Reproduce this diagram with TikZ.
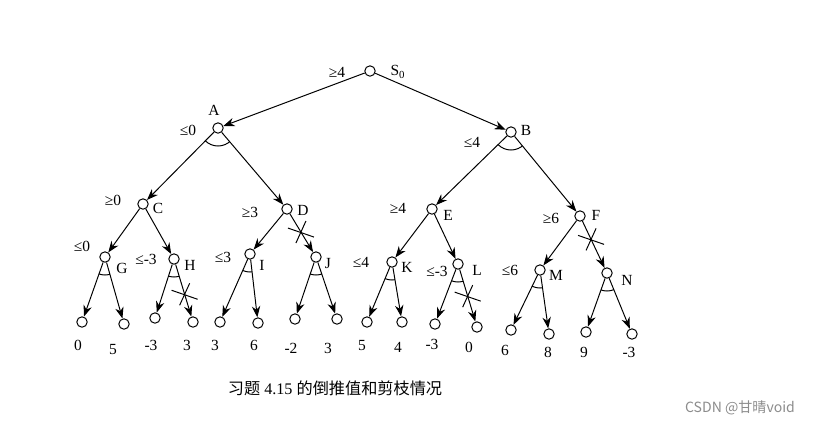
\documentclass[tikz,border=0pt]{standalone}
\usepackage{fontspec}
\setmainfont{Liberation Serif}
\newfontfamily\cjk{Noto Sans CJK SC}
\usetikzlibrary{arrows.meta,calc}

\begin{document}
\begin{tikzpicture}[>={Stealth[length=8pt,width=6pt]}, x=0.025cm, y=-0.025cm,
    state/.style={draw, circle, minimum size=0.26cm, inner sep=0pt, line width=0.7pt},
    lab/.style={font=\fontsize{11}{13}\selectfont, inner sep=0pt},
    edge/.style={->, line width=0.7pt},
    cutmark/.style={line width=0.7pt}]
  \useasboundingbox (0,0) rectangle (815,424);
  % game tree nodes
  \node [state] (S0) at (370,71) {};
  \node [state] (A) at (218,128) {};
  \node [state] (B) at (511,132) {};
  \node [state] (C) at (143,204) {};
  \node [state] (D) at (287,209) {};
  \node [state] (E) at (432,209) {};
  \node [state] (F) at (580,216) {};
  \node [state] (G) at (105,257) {};
  \node [state] (H) at (174,259) {};
  \node [state] (I) at (250,254) {};
  \node [state] (J) at (316,257) {};
  \node [state] (K) at (392,262) {};
  \node [state] (L) at (458,264) {};
  \node [state] (M) at (540,270) {};
  \node [state] (N) at (607,273) {};
  % leaves
  \node [state] (G1) at (82,322) {};
  \node [state] (G2) at (124,324) {};
  \node [state] (H1) at (155,318) {};
  \node [state] (H2) at (193,322) {};
  \node [state] (I1) at (220,322) {};
  \node [state] (I2) at (258,323) {};
  \node [state] (J1) at (295,319) {};
  \node [state] (J2) at (337,319) {};
  \node [state] (K1) at (367,322) {};
  \node [state] (K2) at (402,322) {};
  \node [state] (L1) at (435,324) {};
  \node [state] (L2) at (477,327) {};
  \node [state] (M1) at (511,330) {};
  \node [state] (M2) at (549,334) {};
  \node [state] (N1) at (586,332) {};
  \node [state] (N2) at (632,334) {};
  % edges
  \foreach \p/\c in {S0/A, S0/B, A/C, A/D, B/E, B/F, C/G, C/H, D/I, D/J,
                     E/K, E/L, F/M, F/N, G/G1, G/G2, H/H1, H/H2, I/I1, I/I2,
                     J/J1, J/J2, K/K1, K/K2, L/L1, L/L2, M/M1, M/M2, N/N1, N/N2}
    \draw [edge] (\p) -- (\c);
  % arcs at min nodes
  \foreach \p/\l/\r in {A/C/D, B/E/F, G/G1/G2, H/H1/H2, I/I1/I2, J/J1/J2,
                        K/K1/K2, L/L1/L2, M/M1/M2, N/N1/N2} {
    \begin{scope}
      \clip (\p.center) -- (\l.center) -- (\r.center) -- cycle;
      \draw [line width=0.7pt] (\p.center) circle [radius=0.45cm];
    \end{scope}
  }
  % pruned branches
  \foreach \p/\c/\t in {D/J/0.48, H/H2/0.56, L/L2/0.51, F/N/0.41} {
    \coordinate (x\c) at ($(\p)!\t!(\c)$);
    \draw [cutmark] ($(x\c)+(-13,-4)$) -- ($(x\c)+(13,5)$);
    \draw [cutmark] ($(x\c)+(-5,11)$) -- ($(x\c)+(5,-11)$);
  }
  % node names
  \node [lab] (nS0) at (398,72) {S\textsubscript{0}};
  \node [lab] (nA) at (214,110) {A};
  \node [lab] (nB) at (526,130) {B};
  \node [lab] (nC) at (158,208) {C};
  \node [lab] (nD) at (303,210) {D};
  \node [lab] (nE) at (448,215) {E};
  \node [lab] (nF) at (596,215) {F};
  \node [lab] (nG) at (122,268) {G};
  \node [lab] (nH) at (190,265) {H};
  \node [lab] (nI) at (262,265) {I};
  \node [lab] (nJ) at (328,264) {J};
  \node [lab] (nK) at (407,267) {K};
  \node [lab] (nL) at (477,270) {L};
  \node [lab] (nM) at (556,275) {M};
  \node [lab] (nN) at (627,280) {N};
  % backed-up values
  \node [lab] (vS0) at (337,72) {≥4};
  \node [lab] (vA) at (188,130) {≤0};
  \node [lab] (vB) at (472,142) {≤4};
  \node [lab] (vC) at (113,200) {≥0};
  \node [lab] (vD) at (250,212) {≥3};
  \node [lab] (vE) at (398,208) {≥4};
  \node [lab] (vF) at (551,218) {≥6};
  \node [lab] (vG) at (82,246) {≤0};
  \node [lab] (vH) at (146,259) {≤-3};
  \node [lab] (vI) at (223,257) {≤3};
  \node [lab] (vK) at (361,262) {≤4};
  \node [lab] (vL) at (437,271) {≤-3};
  \node [lab] (vM) at (510,270) {≤6};
  % leaf values
  \node [lab] (tG1) at (78,345) {0};
  \node [lab] (tG2) at (113,349) {5};
  \node [lab] (tH1) at (151,345) {-3};
  \node [lab] (tH2) at (187,345) {3};
  \node [lab] (tI1) at (215,345) {3};
  \node [lab] (tI2) at (254,345) {6};
  \node [lab] (tJ1) at (291,348) {-2};
  \node [lab] (tJ2) at (328,348) {3};
  \node [lab] (tK1) at (362,345) {5};
  \node [lab] (tK2) at (398,347) {4};
  \node [lab] (tL1) at (432,344) {-3};
  \node [lab] (tL2) at (469,347) {0};
  \node [lab] (tM1) at (505,350) {6};
  \node [lab] (tM2) at (548,352) {8};
  \node [lab] (tN1) at (584,352) {9};
  \node [lab] (tN2) at (629,352) {-3};
  % caption and mark
  \node [inner sep=0pt, font=\fontsize{11.5}{13}\selectfont] (cap) at (335,388)
    {{\cjk 习题} 4.15 {\cjk 的倒推值和剪枝情况}};
  \node [inner sep=0pt, text=black!45, font=\cjk\fontsize{10}{12}\selectfont] (mark) at (740,408)
    {CSDN @甘晴void};
\end{tikzpicture}
\end{document}
